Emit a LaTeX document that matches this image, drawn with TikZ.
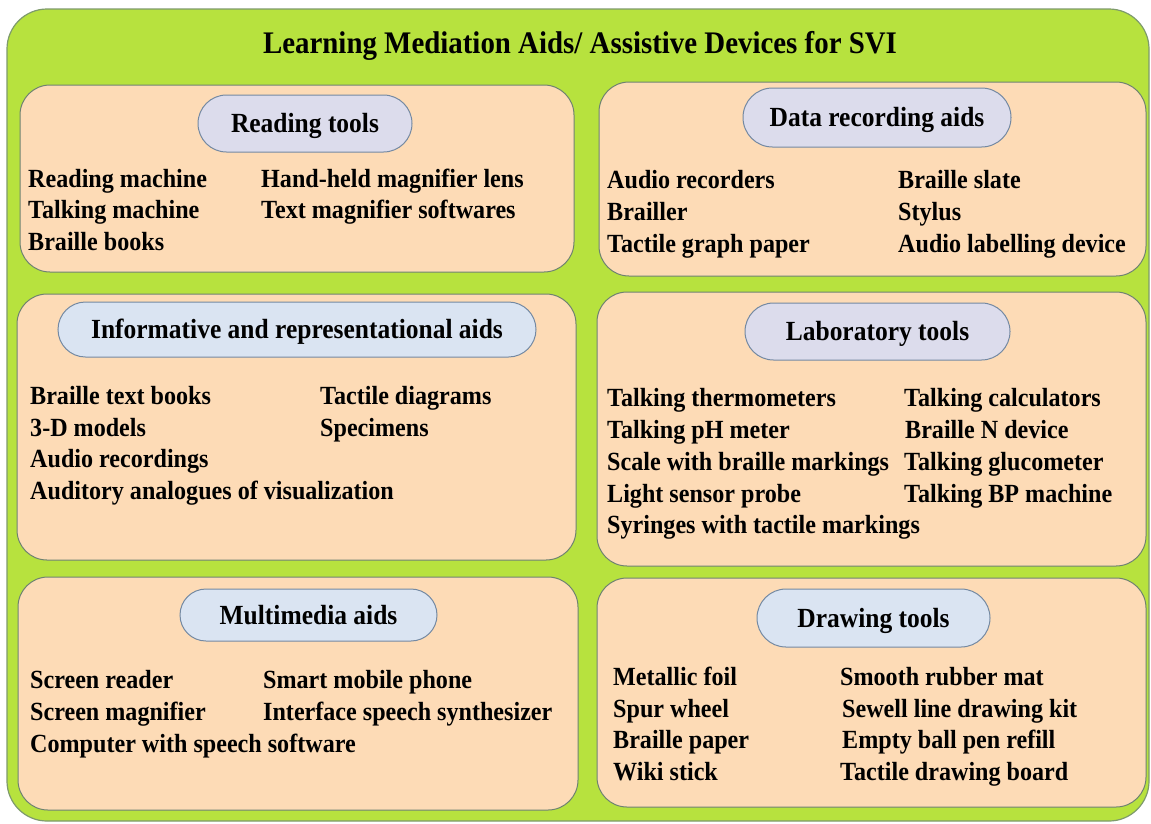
\documentclass[tikz,border=0pt]{standalone}
\usepackage{fontspec}
\setmainfont{Liberation Serif}[FakeStretch=0.92]
\usetikzlibrary{shapes.misc}
\definecolor{outergreen}{HTML}{B7E23E}
\definecolor{outerline}{HTML}{7E9B6C}
\definecolor{peach}{HTML}{FDDBB6}
\definecolor{panelline}{HTML}{6E8270}
\definecolor{lavender}{HTML}{DCDCEC}
\definecolor{paleblue}{HTML}{DAE4F2}
\definecolor{pillline}{HTML}{7489A2}

\begin{document}
\begin{tikzpicture}[x=1pt,y=-1pt,
  outerbox/.style={draw=outerline, fill=outergreen, line width=1.2pt, rounded corners=40pt},
  panel/.style={draw=panelline, fill=peach, line width=1pt, rounded corners=30pt},
  pill/.style={rounded rectangle, draw=pillline, line width=1pt, inner sep=0pt,
    font=\fontsize{27.7}{32}\selectfont\bfseries, text height=18.3pt, text depth=0pt},
  item/.style={anchor=base west, inner sep=0pt, font=\fontsize{26.2}{30}\selectfont\bfseries},
  heading/.style={anchor=base, inner sep=0pt, font=\fontsize{31.4}{36}\selectfont\bfseries}]

% canvas
\fill[white] (0,0) rectangle (1151,823);
\useasboundingbox (0,0) rectangle (1151,823);

% outer frame and title
\draw[outerbox] (7,9) rectangle (1149,821);
\node[heading] (title) at (580,53) {Learning Mediation Aids/ Assistive Devices for SVI};

% six category panels
\draw[panel] (20,85) rectangle (574,272);
\draw[panel] (599,82) rectangle (1146,276);
\draw[panel] (17,294) rectangle (576,560);
\draw[panel] (597,292) rectangle (1146,566);
\draw[panel] (18,577) rectangle (578,810);
\draw[panel] (597,578) rectangle (1146,807);

% panel headings
\node[pill, fill=lavender, minimum width=214pt, minimum height=57pt] (hread) at (305,123.5) {Reading tools};
\node[pill, fill=lavender, minimum width=268pt, minimum height=59pt] (hdata) at (877,117.5) {Data recording aids};
\node[pill, fill=paleblue, minimum width=478pt, minimum height=55pt] (hinfo) at (297,329.5) {Informative and representational aids};
\node[pill, fill=lavender, minimum width=265pt, minimum height=57pt] (hlab) at (877.5,331.5) {Laboratory tools};
\node[pill, fill=paleblue, minimum width=257pt, minimum height=52pt] (hmm) at (308.5,615) {Multimedia aids};
\node[pill, fill=paleblue, minimum width=233pt, minimum height=58pt] (hdraw) at (873.5,618) {Drawing tools};

% Reading tools
\node[item] (r1) at (28,187) {Reading machine};
\node[item] (r2) at (28,218.5) {Talking machine};
\node[item] (r3) at (28,250) {Braille books};
\node[item] (r4) at (261,187) {Hand-held magnifier lens};
\node[item] (r5) at (261,218.5) {Text magnifier softwares};

% Data recording aids
\node[item] (d1) at (607,188) {Audio recorders};
\node[item] (d2) at (607,220) {Brailler};
\node[item] (d3) at (607,252) {Tactile graph paper};
\node[item] (d4) at (898,188) {Braille slate};
\node[item] (d5) at (898,220) {Stylus};
\node[item] (d6) at (898,252) {Audio labelling device};

% Informative and representational aids
\node[item] (i1) at (30,404) {Braille text books};
\node[item] (i2) at (30,436) {3-D models};
\node[item] (i3) at (30,467) {Audio recordings};
\node[item] (i4) at (30,499) {Auditory analogues of visualization};
\node[item] (i5) at (320,404) {Tactile diagrams};
\node[item] (i6) at (320,436) {Specimens};

% Laboratory tools
\node[item] (l1) at (607,406) {Talking thermometers};
\node[item] (l2) at (607,438) {Talking pH meter};
\node[item] (l3) at (607,470) {Scale with braille markings};
\node[item] (l4) at (607,502) {Light sensor probe};
\node[item] (l5) at (607,533) {Syringes with tactile markings};
\node[item] (l6) at (904,406) {Talking calculators};
\node[item] (l7) at (905,438) {Braille N device};
\node[item] (l8) at (904,470) {Talking glucometer};
\node[item] (l9) at (904,502) {Talking BP machine};

% Multimedia aids
\node[item] (m1) at (30,688) {Screen reader};
\node[item] (m2) at (30,720) {Screen magnifier};
\node[item] (m3) at (30,752) {Computer with speech software};
\node[item] (m4) at (263,688) {Smart mobile phone};
\node[item] (m5) at (263,720) {Interface speech synthesizer};

% Drawing tools
\node[item] (w1) at (613,685) {Metallic foil};
\node[item] (w2) at (613,717) {Spur wheel};
\node[item] (w3) at (613,748) {Braille paper};
\node[item] (w4) at (613,780) {Wiki stick};
\node[item] (w5) at (840,685) {Smooth rubber mat};
\node[item] (w6) at (842,717) {Sewell line drawing kit};
\node[item] (w7) at (842,748) {Empty ball pen refill};
\node[item] (w8) at (840,780) {Tactile drawing board};
\end{tikzpicture}
\end{document}
